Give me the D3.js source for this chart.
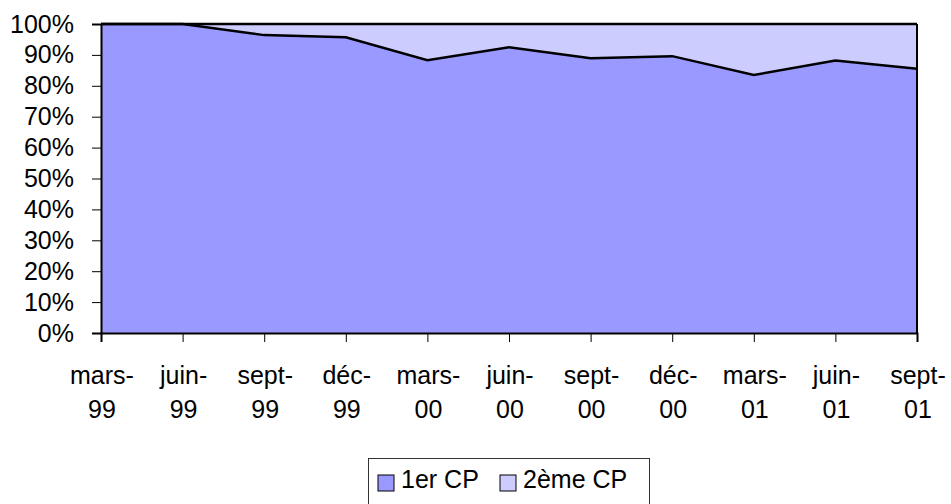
<!DOCTYPE html>
<html lang="fr">
<head>
    <meta charset="UTF-8">
    <title>1er CP / 2ème CP</title>
    <script src="https://d3js.org/d3.v7.min.js"></script>
    <style>
        body { margin: 0; background: #fff; }
        svg { display: block; font-family: "Liberation Sans", Arial, sans-serif; }
    </style>
</head>
<body>
<script>
// quarters, split on two lines like the original axis
const months = ["mars-", "juin-", "sept-", "déc-", "mars-", "juin-", "sept-", "déc-", "mars-", "juin-", "sept-"];
const years = ["99", "99", "99", "99", "00", "00", "00", "00", "01", "01", "01"];
// share of 1er CP in %, the rest is 2ème CP
const firstCP = [100, 100, 96.4, 95.7, 88.3, 92.5, 88.9, 89.6, 83.5, 88.2, 85.5];
const secondCP = firstCP.map(v => 100 - v);
const seriesNames = ["1er CP", "2ème CP"];
const colors = ["#9999ff", "#ccccff"];
const yTicks = [0, 10, 20, 30, 40, 50, 60, 70, 80, 90, 100];

const W = 951, H = 504;
const plotLeft = 101, plotRight = 917, plotTop = 24, plotBottom = 333;
const fontSize = 25;

const table = months.map((m, i) => ({ i: i, a: firstCP[i], b: secondCP[i] }));

const svg = d3.select("body").append("svg")
    .attr("width", W)
    .attr("height", H);

const x = d3.scaleLinear()
    .domain([0, months.length - 1])
    .range([plotLeft, plotRight]);

const y = d3.scaleLinear()
    .domain([0, 100])
    .range([plotBottom, plotTop]);

const stack = d3.stack().keys(["a", "b"]);
const layers = stack(table);

const area = d3.area()
    .x(d => x(d.data.i))
    .y0(d => y(d[0]))
    .y1(d => y(d[1]));

svg.selectAll("path.layer")
    .data(layers)
    .enter()
    .append("path")
    .attr("class", "layer")
    .attr("d", area)
    .attr("fill", (d, i) => colors[i]);

// boundary lines of each layer
const line = d3.line()
    .x(d => x(d.data.i))
    .y(d => y(d[1]));

svg.selectAll("path.edge")
    .data(layers)
    .enter()
    .append("path")
    .attr("class", "edge")
    .attr("d", line)
    .attr("fill", "none")
    .attr("stroke", "#000")
    .attr("stroke-width", 2.5);

// right border of plot area
svg.append("line")
    .attr("x1", plotRight).attr("x2", plotRight)
    .attr("y1", plotTop).attr("y2", plotBottom)
    .attr("stroke", "#000").attr("stroke-width", 2);

// y axis
const yAxis = svg.append("g")
    .attr("transform", `translate(${plotLeft},0)`)
    .call(d3.axisLeft(y).tickValues(yTicks).tickFormat(d => d + "%").tickSize(9).tickPadding(18));
yAxis.select(".domain").attr("stroke-width", 2);
yAxis.selectAll("text").attr("font-size", fontSize).attr("fill", "#000").attr("font-family", null);

// x axis
const xAxis = svg.append("g")
    .attr("transform", `translate(0,${plotBottom})`)
    .call(d3.axisBottom(x).tickValues(d3.range(months.length)).tickFormat("").tickSize(9));
xAxis.select(".domain").attr("stroke-width", 2);

const labels = svg.append("g")
    .attr("font-size", fontSize)
    .attr("text-anchor", "middle")
    .attr("fill", "#000");

labels.selectAll("text.m")
    .data(months)
    .enter()
    .append("text")
    .attr("x", (d, i) => x(i) + 1)
    .attr("y", 384)
    .text(d => d);

labels.selectAll("text.yr")
    .data(years)
    .enter()
    .append("text")
    .attr("x", (d, i) => x(i) + 1)
    .attr("y", 418)
    .text(d => d);

// legend
const legend = svg.append("g");
legend.append("rect")
    .attr("x", 368.5).attr("y", 458.5)
    .attr("width", 281).attr("height", 60)
    .attr("fill", "#fff")
    .attr("stroke", "#333");

const legendX = [378, 500];
const item = legend.selectAll("g.item")
    .data(seriesNames)
    .enter()
    .append("g")
    .attr("transform", (d, i) => `translate(${legendX[i]},475)`);

item.append("rect")
    .attr("width", 16).attr("height", 16)
    .attr("fill", (d, i) => colors[i])
    .attr("stroke", "#000");

item.append("text")
    .attr("x", 23).attr("y", 13)
    .attr("font-size", fontSize)
    .text(d => d);
</script>
</body>
</html>
